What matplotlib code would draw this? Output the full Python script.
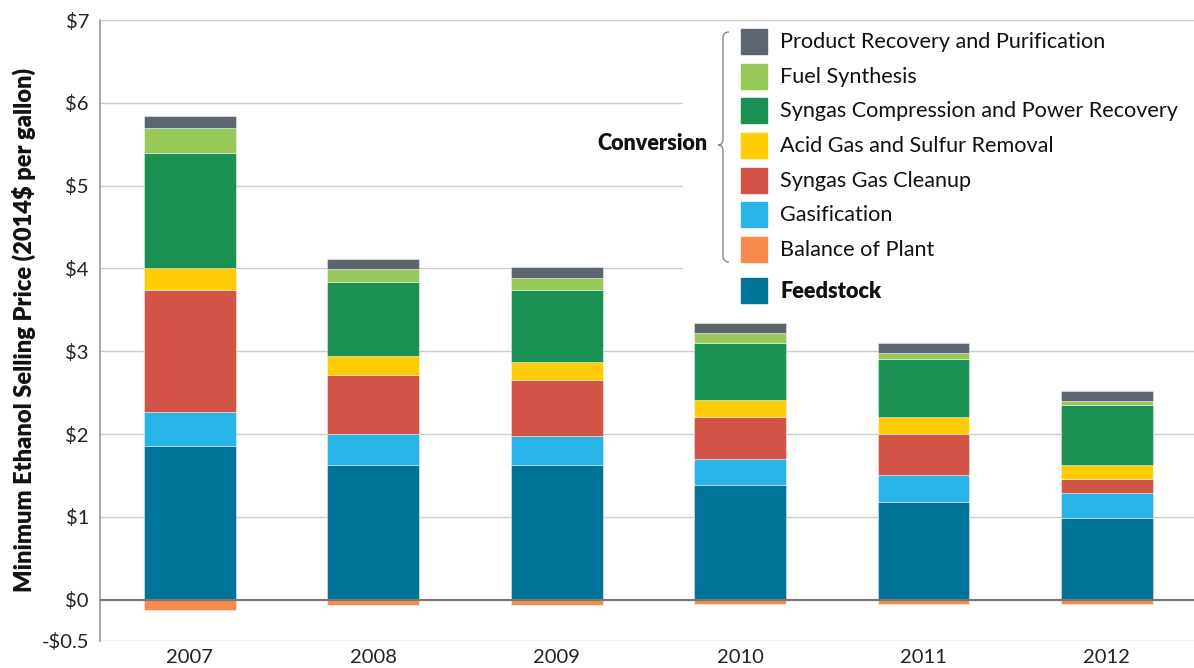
import matplotlib
matplotlib.use("Agg")
import matplotlib.pyplot as plt
from matplotlib.patches import Rectangle
from matplotlib.path import Path
from matplotlib.patches import PathPatch
import numpy as np

years = ["2007", "2008", "2009", "2010", "2011", "2012"]
feedstock = [1.86, 1.63, 1.63, 1.38, 1.18, 0.99]
gasification = [0.40, 0.37, 0.35, 0.32, 0.33, 0.30]
syngas_cleanup = [1.48, 0.71, 0.67, 0.50, 0.49, 0.17]
acid_gas = [0.27, 0.23, 0.22, 0.21, 0.21, 0.17]
compression = [1.38, 0.90, 0.87, 0.69, 0.69, 0.72]
fuel_synthesis = [0.30, 0.15, 0.14, 0.12, 0.08, 0.05]
product_recovery = [0.15, 0.12, 0.14, 0.12, 0.12, 0.12]
balance_of_plant = [-0.12, -0.07, -0.07, -0.05, -0.05, -0.05]

ytick_vals = [-0.5, 0, 1, 2, 3, 4, 5, 6, 7]
ytick_labels = ["-$0.5", "$0", "$1", "$2", "$3", "$4", "$5", "$6", "$7"]

colors = {
    "Product Recovery and Purification": "#5d6670",
    "Fuel Synthesis": "#96c957",
    "Syngas Compression and Power Recovery": "#1a9152",
    "Acid Gas and Sulfur Removal": "#ffcc05",
    "Syngas Gas Cleanup": "#d15446",
    "Gasification": "#29b4e8",
    "Balance of Plant": "#f58c4e",
    "Feedstock": "#007396",
}

plt.rcParams['font.family'] = ['Lato', 'DejaVu Sans']

fig = plt.figure(figsize=(11.94, 6.68), dpi=100)
ax = fig.add_axes([100/1194, 27/668, 1 - 100/1194, (641-20)/668])

x = np.arange(len(years))
w = 0.5
stack = [
    ("Feedstock", feedstock),
    ("Gasification", gasification),
    ("Syngas Gas Cleanup", syngas_cleanup),
    ("Acid Gas and Sulfur Removal", acid_gas),
    ("Syngas Compression and Power Recovery", compression),
    ("Fuel Synthesis", fuel_synthesis),
    ("Product Recovery and Purification", product_recovery),
]
bottom = np.zeros(len(years))
for name, vals in stack:
    ax.bar(x, vals, w, bottom=bottom, color=colors[name],
           edgecolor=(1, 1, 1, 0.5), linewidth=0.6, zorder=3)
    bottom += np.array(vals)
ax.bar(x, balance_of_plant, w, bottom=0, color=colors["Balance of Plant"],
       edgecolor=(1, 1, 1, 0.5), linewidth=0.6, zorder=3)

ax.set_xlim(-0.49, 5.475)
ax.set_ylim(-0.5, 7)
ax.set_yticks(ytick_vals)
ax.set_yticklabels(ytick_labels)
ax.set_xticks(x)
ax.set_xticklabels(years)
ax.tick_params(axis='both', length=0, labelsize=14.5, colors='#222222')
ax.tick_params(axis='y', pad=8)
ax.tick_params(axis='x', pad=6)
ax.grid(axis='y', color='#cccccc', linewidth=1.0, zorder=0)
ax.set_axisbelow(True)
ax.axhline(0, color='#777777', linewidth=1.5, zorder=4)
for s in ['top', 'right', 'bottom']:
    ax.spines[s].set_visible(False)
ax.spines['left'].set_color('#999999')
ax.spines['left'].set_linewidth(1.2)
ax.set_ylabel("Minimum Ethanol Selling Price (2014$ per gallon)", fontsize=17,
              fontweight='heavy', color='#111111', labelpad=4)

# overlay legend in pixel coordinates
ov = fig.add_axes([0, 0, 1, 1])
ov.set_xlim(0, 1194)
ov.set_ylim(668, 0)
ov.axis('off')
ov.add_patch(Rectangle((683, 28), 511, 278, color='white', zorder=1))

legend_rows = [
    ("Product Recovery and Purification", 41),
    ("Fuel Synthesis", 76),
    ("Syngas Compression and Power Recovery", 110),
    ("Acid Gas and Sulfur Removal", 145),
    ("Syngas Gas Cleanup", 180),
    ("Gasification", 214),
    ("Balance of Plant", 249),
    ("Feedstock", 290),
]
for name, yc in legend_rows:
    ov.add_patch(Rectangle((741, yc - 12.5), 26, 25, color=colors[name], zorder=2))
    ov.text(780, yc + 1, name, fontsize=15.6, va='center', ha='left', color='#111111',
            fontweight='heavy' if name == "Feedstock" else 'normal', zorder=3)

ov.text(708, 144, "Conversion", fontsize=15.5, fontweight='heavy', va='center', ha='right',
        color='#111111', zorder=3)

# brace
xb, y0, y1, ym = 723, 32, 262, 145
verts = [
    (xb + 6, y0), (xb, y0), (xb, y0 + 6),
    (xb, ym - 6),
    (xb, ym), (xb - 5, ym),
    (xb, ym), (xb, ym + 6),
    (xb, y1 - 6),
    (xb, y1), (xb + 6, y1),
]
codes = [Path.MOVETO, Path.CURVE3, Path.CURVE3, Path.LINETO,
         Path.CURVE3, Path.CURVE3, Path.CURVE3, Path.CURVE3,
         Path.LINETO, Path.CURVE3, Path.CURVE3]
ov.add_patch(PathPatch(Path(verts, codes), fill=False, edgecolor='#888888', linewidth=1.0, zorder=3))

fig.savefig("out.png", dpi=100)
